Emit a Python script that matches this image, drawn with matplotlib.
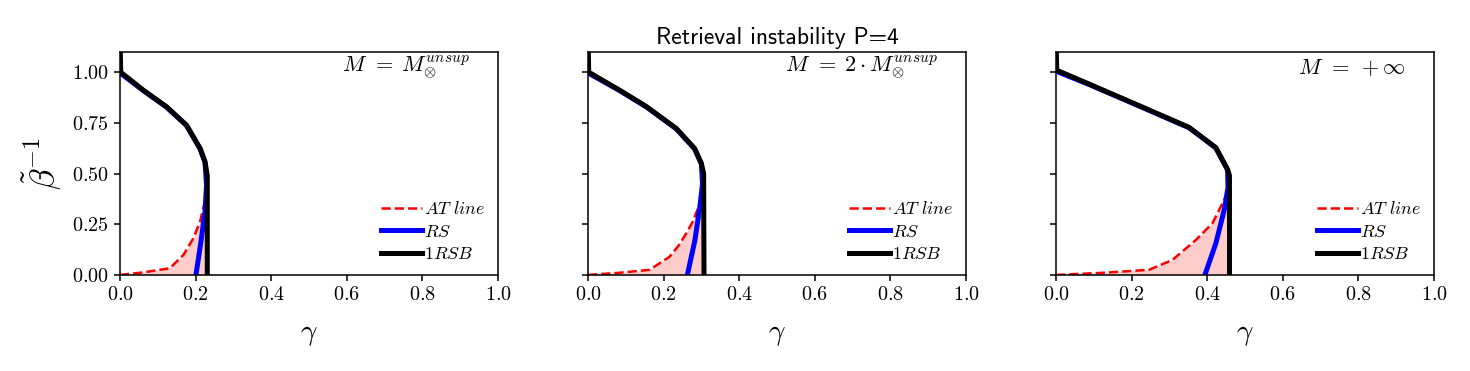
import matplotlib
matplotlib.use("Agg")
import matplotlib.pyplot as plt
import numpy as np

plt.rcParams['font.family'] = 'serif'
plt.rcParams['font.serif'] = ['cmr10']
plt.rcParams['mathtext.fontset'] = 'cm'
plt.rcParams['axes.formatter.use_mathtext'] = True

# panel labels
labels = [r'$M\hspace{0.4}=\;M_{\otimes}^{unsup}$', r'$M\hspace{0.4}=\;2\cdot M_{\otimes}^{unsup}$',
          r'$M\hspace{0.4}=\;+\infty$']

# 1RSB line (gamma, beta^-1)
rsb_g = [[0.0, 0.002, 0.062, 0.123, 0.176, 0.212, 0.225, 0.231, 0.231],
         [0.0, 0.002, 0.084, 0.155, 0.234, 0.282, 0.300, 0.306, 0.307],
         [0.0, 0.002, 0.087, 0.220, 0.352, 0.423, 0.454, 0.459, 0.459]]
rsb_b = [[1.2, 1.0, 0.911, 0.83, 0.739, 0.624, 0.558, 0.49, 0.0],
         [1.2, 1.0, 0.911, 0.83, 0.722, 0.624, 0.55, 0.50, 0.0],
         [1.2, 1.01, 0.942, 0.835, 0.728, 0.628, 0.52, 0.49, 0.0]]

# RS line
rs_g = [[0.0, 0.062, 0.123, 0.176, 0.212, 0.225, 0.229, 0.225, 0.213, 0.201],
        [0.0, 0.084, 0.155, 0.234, 0.282, 0.300, 0.303, 0.296, 0.283, 0.263],
        [0.0, 0.087, 0.220, 0.352, 0.423, 0.454, 0.455, 0.445, 0.423, 0.394]]
rs_b = [[0.997, 0.909, 0.828, 0.737, 0.622, 0.556, 0.443, 0.312, 0.148, 0.0],
        [0.997, 0.909, 0.828, 0.72, 0.622, 0.548, 0.45, 0.336, 0.172, 0.0],
        [1.005, 0.94, 0.833, 0.726, 0.626, 0.518, 0.43, 0.32, 0.156, 0.0]]

# AT line
at_g = [[0.0, 0.06, 0.132, 0.168, 0.194, 0.212, 0.220, 0.226],
        [0.0, 0.08, 0.163, 0.216, 0.240, 0.260, 0.278, 0.291],
        [0.0, 0.12, 0.246, 0.308, 0.370, 0.414, 0.445, 0.452]]
at_b = [[0.0, 0.012, 0.033, 0.099, 0.18, 0.263, 0.328, 0.37],
        [0.0, 0.01, 0.025, 0.09, 0.145, 0.205, 0.265, 0.328],
        [0.0, 0.01, 0.025, 0.074, 0.172, 0.255, 0.37, 0.40]]

fig, axes = plt.subplots(1, 3, figsize=(14.7, 3.71), dpi=100, sharey=True)
fig.subplots_adjust(left=0.0816, right=0.9755, bottom=0.259, top=0.86, wspace=0.238)

for i, ax in enumerate(axes):
    gc = rsb_g[i][-1]
    ax.fill_betweenx(at_b[i], at_g[i], gc, color='red', alpha=0.2, lw=0)
    ax.plot(at_g[i], at_b[i], '--', color='red', lw=1.8, label=r'$AT\ line$')
    ax.plot(rs_g[i], rs_b[i], '-', color='blue', lw=3.6, label=r'$RS$')
    ax.plot(rsb_g[i], rsb_b[i], '-', color='black', lw=3.6, label=r'$1RSB$')
    ax.set_xlim(0, 1)
    ax.set_ylim(0, 1.1)
    ax.set_xticks([0, 0.2, 0.4, 0.6, 0.8, 1.0])
    ax.set_yticks([0, 0.25, 0.5, 0.75, 1.0])
    ax.tick_params(labelsize=14.5, width=1.1, length=4.5)
    for s in ax.spines.values():
        s.set_linewidth(1.1)
    ax.set_xlabel(r'$\gamma$', fontsize=21, labelpad=13)
    ax.text(0.925, 0.93, labels[i], transform=ax.transAxes, ha='right', va='center', fontsize=16)
    ax.legend(loc='lower right', frameon=False, fontsize=13, handlelength=2.3,
              handletextpad=0.1, labelspacing=0.35, bbox_to_anchor=(1.01, -0.015))

axes[0].yaxis.set_major_formatter(matplotlib.ticker.FormatStrFormatter('$%.2f$'))
axes[0].set_ylabel(r'$\tilde{\beta}^{-1}$', fontsize=25, labelpad=6)
axes[1].set_title('Retrieval instability P=4', fontsize=17, family='cmss10')

fig.savefig('out.png')
